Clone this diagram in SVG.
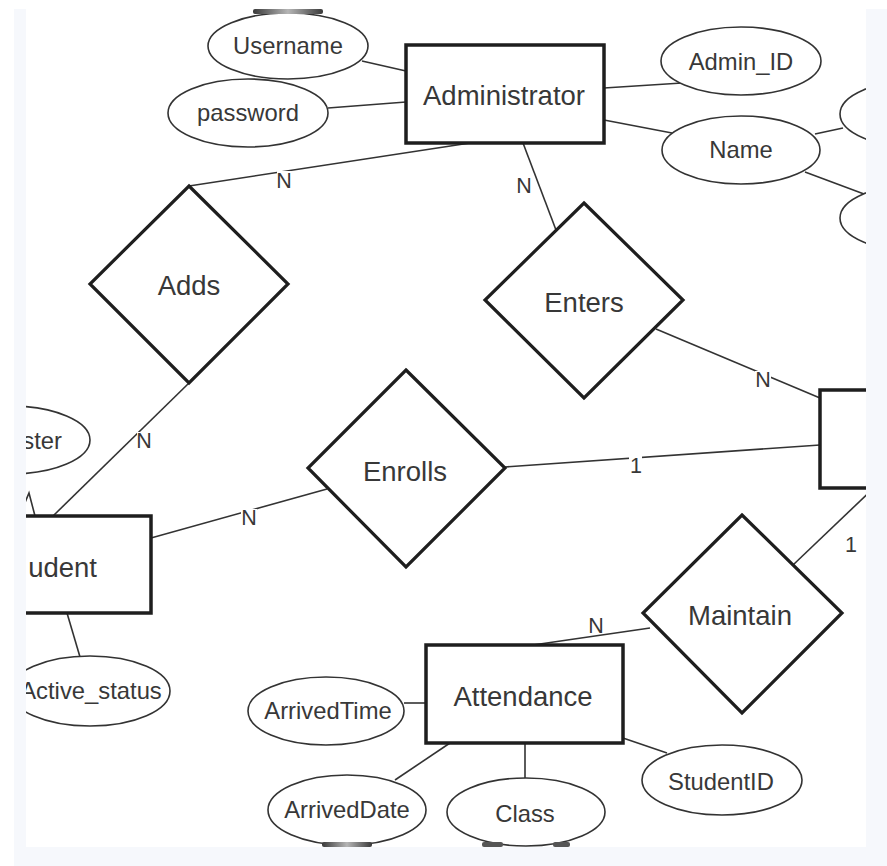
<svg xmlns="http://www.w3.org/2000/svg" width="887" height="866" viewBox="0 0 887 866">
<style>
.ent{fill:#fff;stroke:#1e1e1e;stroke-width:3.5}
.rel{fill:#fff;stroke:#1e1e1e;stroke-width:3.2}
.att{fill:#fff;stroke:#333;stroke-width:1.6}
.ln{stroke:#333;stroke-width:1.6;fill:none}
.t{font-family:"Liberation Sans",Arial,Helvetica,sans-serif;fill:#383838;text-anchor:middle}
.big{font-size:27.5px}
.sm{font-size:23.8px}
.card{font-size:21.5px}
.lbg{fill:#fff}
</style>
<defs>
<clipPath id="crop"><rect x="26" y="9" width="840" height="838"/></clipPath>
<linearGradient id="smear" x1="0" y1="0" x2="1" y2="0">
<stop offset="0" stop-color="#3a3a3a"/>
<stop offset="0.5" stop-color="#b5b5b5"/>
<stop offset="1" stop-color="#3a3a3a"/>
</linearGradient>
</defs>
<rect x="0" y="0" width="887" height="866" fill="#fff"/>
<rect x="14" y="9" width="873" height="857" fill="#f6f8fc"/>
<rect x="26" y="9" width="840" height="838" fill="#fff"/>
<g clip-path="url(#crop)">
<g id="connectors">
<line class="ln" x1="362" y1="61" x2="406" y2="71"/>
<line class="ln" x1="328" y1="108" x2="406" y2="102"/>
<line class="ln" x1="604" y1="88" x2="682" y2="83"/>
<line class="ln" x1="604" y1="120" x2="672" y2="133"/>
<line class="ln" x1="815" y1="134" x2="843" y2="128"/>
<line class="ln" x1="805" y1="172" x2="864" y2="194"/>
<line class="ln" x1="470" y1="143" x2="189" y2="186"/>
<line class="ln" x1="523" y1="143" x2="556" y2="230"/>
<line class="ln" x1="189" y1="383" x2="53" y2="516"/>
<line class="ln" x1="151" y1="538" x2="327" y2="489"/>
<line class="ln" x1="505" y1="467" x2="820" y2="445"/>
<line class="ln" x1="656" y1="329" x2="820" y2="398"/>
<line class="ln" x1="880" y1="482" x2="793" y2="565"/>
<line class="ln" x1="650" y1="628" x2="533" y2="645"/>
<line class="ln" x1="67" y1="613" x2="80" y2="657"/>
<line class="ln" x1="404" y1="703" x2="426" y2="703"/>
<line class="ln" x1="395" y1="780" x2="450" y2="743"/>
<line class="ln" x1="525" y1="743" x2="525" y2="778"/>
<line class="ln" x1="623" y1="738" x2="667" y2="753"/>
<polyline class="ln" points="35,516 29,493 24,505"/>
</g>
<g id="cardinality">
<rect class="lbg" x="277" y="171" width="15" height="17"/>
<text class="t card" x="284" y="188">N</text>
<text class="t card" x="524" y="193">N</text>
<rect class="lbg" x="137" y="432" width="15" height="17"/>
<text class="t card" x="144" y="448">N</text>
<rect class="lbg" x="241" y="509" width="16" height="17"/>
<text class="t card" x="249" y="525">N</text>
<rect class="lbg" x="629" y="456" width="13" height="17"/>
<text class="t card" x="636" y="473">1</text>
<rect class="lbg" x="755" y="371" width="16" height="17"/>
<text class="t card" x="763" y="387">N</text>
<text class="t card" x="851" y="552">1</text>
<text class="t card" x="596" y="633">N</text>
</g>
<g id="administrator">
<rect class="ent" x="406" y="45" width="198" height="98"/>
<text class="t big" x="504" y="105">Administrator</text>
</g>
<g id="username">
<ellipse class="att" cx="288" cy="46" rx="80" ry="33"/>
<text class="t sm" x="288" y="54">Username</text>
</g>
<g id="password">
<ellipse class="att" cx="248" cy="113" rx="80" ry="34"/>
<text class="t sm" x="248" y="121">password</text>
</g>
<g id="admin_id">
<ellipse class="att" cx="741" cy="61" rx="80" ry="34"/>
<text class="t sm" x="741" y="70">Admin_ID</text>
</g>
<g id="name">
<ellipse class="att" cx="741" cy="150" rx="79" ry="34"/>
<text class="t sm" x="741" y="158">Name</text>
</g>
<g id="name-part1">
<ellipse class="att" cx="920" cy="114" rx="80" ry="34"/>
</g>
<g id="name-part2">
<ellipse class="att" cx="920" cy="218" rx="80" ry="34"/>
</g>
<g id="adds">
<polygon class="rel" points="189,186 288,284 189,383 90,284"/>
<text class="t big" x="189" y="295">Adds</text>
</g>
<g id="enters">
<polygon class="rel" points="584,203 683,300 584,398 485,300"/>
<text class="t big" x="584" y="312">Enters</text>
</g>
<g id="enrolls">
<polygon class="rel" points="406,370 505,468 406,567 308,468"/>
<text class="t big" x="405" y="481">Enrolls</text>
</g>
<g id="maintain">
<polygon class="rel" points="742,515 842,613 742,713 643,613"/>
<text class="t big" x="740" y="625">Maintain</text>
</g>
<g id="right-entity">
<rect class="ent" x="820" y="390" width="200" height="98"/>
</g>
<g id="semester">
<ellipse class="att" cx="10" cy="440" rx="80" ry="34"/>
<text class="t sm" x="62" y="449" style="text-anchor:end">ster</text>
</g>
<g id="student">
<rect class="ent" x="-50" y="516" width="201" height="97"/>
<text class="t big" x="97" y="577" style="text-anchor:end">udent</text>
</g>
<g id="active_status">
<ellipse class="att" cx="90" cy="691" rx="80" ry="35"/>
<text class="t sm" x="91" y="699">Active_status</text>
</g>
<g id="attendance">
<rect class="ent" x="426" y="645" width="197" height="98"/>
<text class="t big" x="523" y="706">Attendance</text>
</g>
<g id="arrivedtime">
<ellipse class="att" cx="326" cy="711" rx="78" ry="34"/>
<text class="t sm" x="328" y="719">ArrivedTime</text>
</g>
<g id="arriveddate">
<ellipse class="att" cx="347" cy="810" rx="79" ry="35"/>
<text class="t sm" x="347" y="818">ArrivedDate</text>
</g>
<g id="class">
<ellipse class="att" cx="526" cy="812" rx="79" ry="34"/>
<text class="t sm" x="525" y="822">Class</text>
</g>
<g id="studentid">
<ellipse class="att" cx="722" cy="780" rx="80" ry="35"/>
<text class="t sm" x="721" y="790">StudentID</text>
</g>
<g id="edge-smears">
<rect x="253" y="9" width="70" height="5" rx="2" fill="url(#smear)"/>
<rect x="322" y="842" width="50" height="5" rx="2" fill="url(#smear)"/>
<rect x="482" y="842" width="21" height="5" rx="2" fill="#555"/>
<rect x="553" y="842" width="17" height="5" rx="2" fill="#555"/>
</g>
</g>
</svg>
